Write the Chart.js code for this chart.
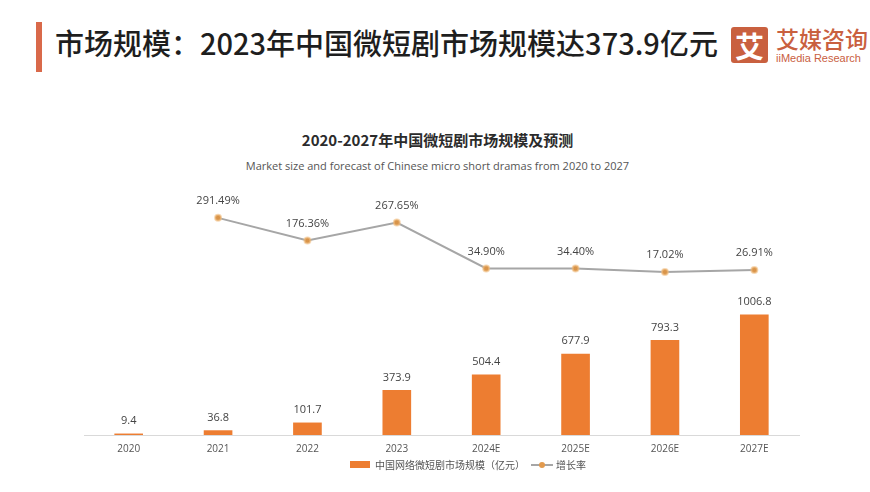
<!DOCTYPE html>
<html>
<head>
<meta charset="utf-8">
<script src="https://cdn.jsdelivr.net/npm/chart.js@4.4.1/dist/chart.umd.min.js"></script>
<style>
    html, body { margin: 0; padding: 0; background: #fff; }
    body { width: 870px; height: 492px; position: relative; overflow: hidden; font-family: "Open Sans", "Noto Sans CJK SC", sans-serif; }
    .bar-mark { position: absolute; left: 36px; top: 22px; width: 6px; height: 50px; background: #d9694a; }
    .headline { position: absolute; left: 55px; top: 23px; font-family: "Noto Sans CJK SC", sans-serif; font-size: 29px; font-weight: 500; color: #1e1e1e; line-height: 38px; white-space: nowrap; }
    .logo-box { position: absolute; left: 731px; top: 27px; width: 37px; height: 36px; background: #c9603f; border-radius: 3px; color: #fff; font-family: "Noto Sans CJK SC", sans-serif; font-weight: 700; font-size: 29px; line-height: 36px; text-align: center; }
    .logo-cn { position: absolute; left: 776px; top: 24px; font-family: "Noto Sans CJK SC", sans-serif; font-size: 23px; font-weight: 500; color: #c9603f; line-height: 28px; white-space: nowrap; }
    .logo-en { position: absolute; left: 776px; top: 52px; font-family: "Liberation Sans Narrow", "Liberation Sans", sans-serif; font-size: 11px; color: #c9603f; line-height: 12px; white-space: nowrap; }
    .chart-title { position: absolute; left: 0; width: 875px; top: 130px; text-align: center; font-family: "Noto Sans CJK SC", sans-serif; font-size: 15px; font-weight: 700; color: #2b2b2b; line-height: 20px; }
    .chart-sub { position: absolute; left: 0; width: 875px; top: 158px; text-align: center; font-family: "Open Sans", sans-serif; font-size: 11px; color: #555; line-height: 16px; }
    .chart-wrap { position: absolute; left: 0; top: 190px; width: 870px; height: 302px; }
    .legend { position: absolute; top: 457px; left: 350px; display: flex; align-items: center; font-family: "Noto Sans CJK SC", sans-serif; font-size: 10px; color: #555; white-space: nowrap; }
    .legend .box { width: 20px; height: 7px; background: #ed7d31; margin-right: 5px; }
    .legend .line { width: 22px; height: 2px; background: #a6a6a6; position: relative; margin: 0 3px 0 6px; }
    .legend .line::after { content: ""; position: absolute; left: 8px; top: -2px; width: 6px; height: 6px; border-radius: 50%; background: #e29a4e; }
</style>
</head>
<body>
<div class="bar-mark"></div>
<div class="headline">市场规模：2023年中国微短剧市场规模达373.9亿元</div>
<div class="logo-box">艾</div>
<div class="logo-cn">艾媒咨询</div>
<div class="logo-en">iiMedia Research</div>
<div class="chart-title">2020-2027年中国微短剧市场规模及预测</div>
<div class="chart-sub">Market size and forecast of Chinese micro short dramas from 2020 to 2027</div>
<div class="chart-wrap"><canvas id="marketChart"></canvas></div>
<div class="legend" id="legend"></div>
<script>
const years = ['2020', '2021', '2022', '2023', '2024E', '2025E', '2026E', '2027E'];
const marketSize = [9.4, 36.8, 101.7, 373.9, 504.4, 677.9, 793.3, 1006.8];
const growthRate = [null, 291.49, 176.36, 267.65, 34.90, 34.40, 17.02, 26.91];
const sizeLabel = '中国网络微短剧市场规模（亿元）';
const growthLabel = '增长率';

const valueLabels = {
    id: 'valueLabels',
    afterDatasetsDraw(chart) {
        const ctx = chart.ctx;
        ctx.save();
        ctx.textAlign = 'center';
        ctx.textBaseline = 'middle';
        ctx.fillStyle = '#444';
        ctx.font = '11px "Open Sans", sans-serif';
        chart.getDatasetMeta(0).data.forEach((bar, i) => {
            ctx.fillText(String(marketSize[i]), bar.x, bar.y - 13);
        });
        chart.getDatasetMeta(1).data.forEach((pt, i) => {
            if (growthRate[i] == null) return;
            ctx.fillText(growthRate[i].toFixed(2) + '%', pt.x, pt.y - 17);
        });
        ctx.restore();
    },
};

const initMarketChart = () => {
    const canvas = document.getElementById('marketChart');
    if (!canvas) {
        return;
    }

    new Chart(canvas, {
        type: 'bar',
        data: {
            labels: years,
            datasets: [
                {
                    type: 'bar',
                    label: sizeLabel,
                    data: marketSize,
                    backgroundColor: '#ed7d31',
                    barThickness: 28,
                    yAxisID: 'y',
                    order: 2,
                },
                {
                    type: 'line',
                    label: growthLabel,
                    data: growthRate,
                    borderColor: '#a6a6a6',
                    borderWidth: 2,
                    pointRadius: 3,
                    pointBackgroundColor: '#d8944a',
                    pointBorderColor: 'rgba(240,190,130,0.6)',
                    pointBorderWidth: 2,
                    tension: 0,
                    yAxisID: 'y1',
                    order: 1,
                },
            ],
        },
        options: {
            responsive: true,
            maintainAspectRatio: false,
            animation: false,
            layout: { padding: { left: 84, right: 71, top: 10, bottom: 29 } },
            plugins: {
                legend: { display: false },
                tooltip: { enabled: false },
            },
            scales: {
                x: {
                    grid: { display: false, drawTicks: false },
                    border: { display: true, color: '#d9d9d9', width: 1 },
                    ticks: { color: '#555', font: { size: 10, family: '"Open Sans", sans-serif' }, padding: 8 },
                },
                y: {
                    display: false,
                    min: 0,
                    max: 1970,
                },
                y1: {
                    display: false,
                    min: -809,
                    max: 382,
                },
            },
        },
        plugins: [valueLabels],
    });

    const legend = document.getElementById('legend');
    legend.innerHTML = '<span class="box"></span><span>' + sizeLabel + '</span>'
        + '<span class="line"></span><span>' + growthLabel + '</span>';
};

if (document.readyState === 'loading') {
    document.addEventListener('DOMContentLoaded', initMarketChart, { once: true });
} else {
    initMarketChart();
}
</script>
</body>
</html>
